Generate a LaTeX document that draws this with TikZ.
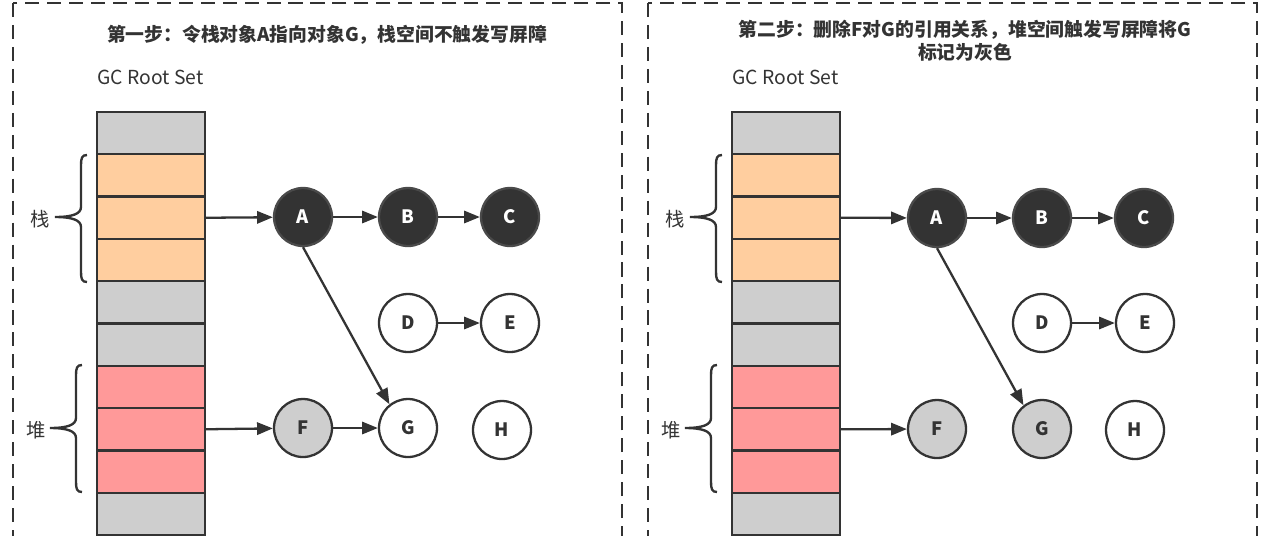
\documentclass[tikz,border=0pt]{standalone}
\usepackage{fontspec}
\setmainfont{Noto Sans CJK SC}
\usepackage{tikz}
\usetikzlibrary{arrows.meta, positioning}
\definecolor{gcdark}{RGB}{51,51,51}
\definecolor{gcedge}{RGB}{74,74,74}
\definecolor{gcgray}{RGB}{206,206,206}
\definecolor{gcorange}{RGB}{255,206,159}
\definecolor{gcred}{RGB}{255,153,153}
\tikzset{
  cell/.style={rectangle, draw=gcdark, line width=1.35pt,
    minimum width=2.16cm, minimum height=0.846cm, inner sep=0pt},
  obj/.style={circle, draw=gcdark, fill=white, line width=1.3pt,
    minimum size=1.16cm, inner sep=0pt, text=gcdark,
    font=\fontsize{10.5}{12}\selectfont\bfseries},
  blackobj/.style={obj, draw=gcedge, fill=gcdark, text=white},
  grayobj/.style={obj, fill=gcgray},
  arrow/.style={-{Triangle[length=9pt, width=7pt]}, line width=1.3pt, color=gcdark},
  panel/.style={draw=gcdark, line width=1.35pt, dash pattern=on 8pt off 4.5pt},
  brc/.style={draw=gcdark, line width=1.35pt}
}

\begin{document}
\begin{tikzpicture}[x=0.02cm, y=-0.02cm,
  steptitle/.style={font=\fontsize{10.7}{13}\selectfont\bfseries, text=gcdark, align=center, inner sep=0pt},
  rootlbl/.style={font=\fontsize{11}{12}\selectfont, text=gcdark, anchor=west, inner sep=0pt},
  lbl/.style={font=\fontsize{11}{12}\selectfont, text=gcdark, inner sep=0pt}
]
\useasboundingbox (0,0) rectangle (1273,535);
\clip (0,0) rectangle (1273,535);

% Step 1
\draw[panel] (13,3) rectangle (622,560);
\node[steptitle] (t1) at (327,35) {第一步：令栈对象A指向对象G，栈空间不触发写屏障};
\node[rootlbl] (g1) at (97,77) {GC Root Set};
\foreach \c [count=\i from 0] in {gcgray,gcorange,gcorange,gcorange,gcgray,gcgray,gcred,gcred,gcred,gcgray}
  \node[cell, fill=\c] (L\i) at (151,{133.15+42.3*\i}) {};
\node[lbl] (ls1) at (40,219) {栈};
\draw[brc] (87,155) .. controls +(-5,0) and +(0,-7) .. ++(-6,10) -- ++(0,42)
  .. controls +(0,7) and +(17,0) .. ++(-26,10) .. controls +(17,0) and +(0,-7) .. ++(26,10)
  -- ++(0,45) .. controls +(0,7) and +(-5,0) .. ++(6,10);
\node[lbl] (lh1) at (36,430) {堆};
\draw[brc] (82,365) .. controls +(-5,0) and +(0,-7) .. ++(-6,10) -- ++(0,43)
  .. controls +(0,7) and +(17,0) .. ++(-26,10) .. controls +(17,0) and +(0,-7) .. ++(26,10)
  -- ++(0,44) .. controls +(0,7) and +(-5,0) .. ++(6,10);
\node[blackobj] (lA) at (303,217) {A};
\node[blackobj] (lB) at (408,217) {B};
\node[blackobj] (lC) at (510,217) {C};
\node[obj] (lD) at (408,323) {D};
\node[obj] (lE) at (510,323) {E};
\node[grayobj] (lF) at (303,428) {F};
\node[obj] (lG) at (408,428) {G};
\node[obj] (lH) at (502,430) {H};
\draw[arrow] (L2.east) -- (lA);
\draw[arrow] (lA) -- (lB);
\draw[arrow] (lB) -- (lC);
\draw[arrow] (lD) -- (lE);
\draw[arrow] (L7.east) -- (lF);
\draw[arrow] (lF) -- (lG);
\draw[arrow] (lA.south) -- (lG.128);

% Step 2
\draw[panel] (648,3) rectangle (1257,560);
\node[steptitle] (t2) at (965,41) {第二步：删除F对G的引用关系，堆空间触发写屏障将G\\标记为灰色};
\node[rootlbl] (g2) at (732,77) {GC Root Set};
\foreach \c [count=\i from 0] in {gcgray,gcorange,gcorange,gcorange,gcgray,gcgray,gcred,gcred,gcred,gcgray}
  \node[cell, fill=\c] (R\i) at (786,{133.15+42.3*\i}) {};
\node[lbl] (rs1) at (675,219) {栈};
\draw[brc] (722,155) .. controls +(-5,0) and +(0,-7) .. ++(-6,10) -- ++(0,42)
  .. controls +(0,7) and +(17,0) .. ++(-26,10) .. controls +(17,0) and +(0,-7) .. ++(26,10)
  -- ++(0,45) .. controls +(0,7) and +(-5,0) .. ++(6,10);
\node[lbl] (rh1) at (671,430) {堆};
\draw[brc] (717,365) .. controls +(-5,0) and +(0,-7) .. ++(-6,10) -- ++(0,43)
  .. controls +(0,7) and +(17,0) .. ++(-26,10) .. controls +(17,0) and +(0,-7) .. ++(26,10)
  -- ++(0,44) .. controls +(0,7) and +(-5,0) .. ++(6,10);
\node[blackobj] (rA) at (937,218) {A};
\node[blackobj] (rB) at (1042,218) {B};
\node[blackobj] (rC) at (1144,218) {C};
\node[obj] (rD) at (1042,323) {D};
\node[obj] (rE) at (1145,323) {E};
\node[grayobj] (rF) at (937,429) {F};
\node[grayobj] (rG) at (1042,429) {G};
\node[obj] (rH) at (1135,430) {H};
\draw[arrow] (R2.east) -- (rA);
\draw[arrow] (rA) -- (rB);
\draw[arrow] (rB) -- (rC);
\draw[arrow] (rD) -- (rE);
\draw[arrow] (R7.east) -- (rF);
\draw[arrow] (rA.south) -- (rG.128);
\end{tikzpicture}
\end{document}
